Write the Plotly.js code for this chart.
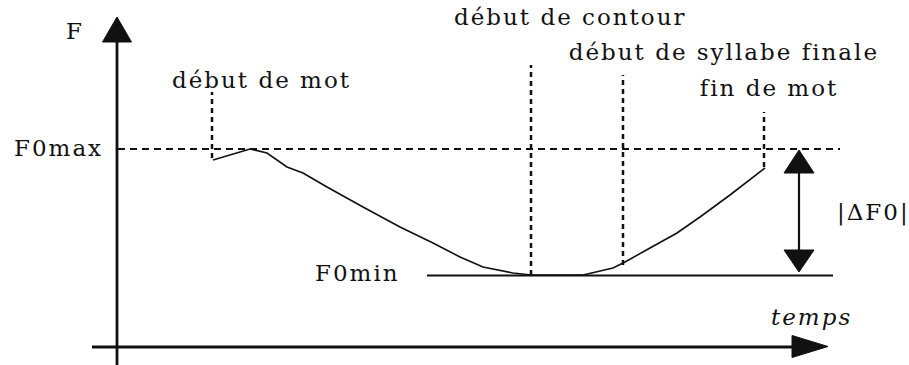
<!DOCTYPE html>
<html>
<head>
<meta charset="utf-8">
<script src="https://cdn.plot.ly/plotly-3.0.1.min.js"></script>
<style>
  html, body { margin: 0; padding: 0; background: #fff; }
  #chart { width: 909px; height: 365px; }
  #chart .annotation-text { letter-spacing: 2px; }
</style>
</head>
<body>
<div id="chart"></div>
<script>
// F0 contour (time t, frequency F)
var curveT = [9.6, 13.3, 15.0, 17.0, 18.6, 21.0, 24.6, 28.3, 31.6, 34.3, 36.6, 39.6, 41.4,
              46.6, 49.6, 50.8, 53.3, 56.0, 58.3, 61.3, 64.8];
var curveF = [18.7, 19.8, 19.4, 18.0, 17.4, 16.0, 14.0, 12.0, 10.4, 9.0, 8.0, 7.4, 7.2,
              7.2, 7.9, 8.5, 9.9, 11.4, 13.0, 15.2, 17.9];

var f0max = 19.8;
var f0min = 7.15;

// event markers on the time axis
var eventLabels = ['début de mot', 'début de contour', 'début de syllabe finale', 'fin de mot'];
var eventTimes = [9.5, 41.4, 50.6, 64.7];
var eventTops = [25.5, 28.2, 27.2, 23.5];
var eventBottoms = [18.9, 7.2, 8.2, 18.0];

var tMin = -11.7, tMax = 79.2;
var fMin = -1.8, fMax = 34.7;

var FONT = 'DejaVu Serif, Liberation Serif, serif';
var INK = '#111';

function triangle(tipX, tipY, dx, dy, halfW) {
    // arrow head: tip at (tipX, tipY), base centred at tip - (dx, dy)
    var bx = tipX - dx, by = tipY - dy;
    var nx = dy === 0 ? 0 : halfW, ny = dy === 0 ? halfW : 0;
    return {
        x: [tipX, bx + nx, bx - nx, tipX],
        y: [tipY, by + ny, by - ny, tipY]
    };
}

function headTrace(h) {
    return {
        type: 'scatter', mode: 'lines', x: h.x, y: h.y,
        fill: 'toself', fillcolor: INK, line: { color: INK, width: 1 },
        hoverinfo: 'skip', showlegend: false
    };
}

var yHeadTip = 33.0, xHeadTip = 71.1, xAxisEnd = 67.5;
var arrowT = 68.2;

var traces = [
    {
        type: 'scatter', mode: 'lines', x: curveT, y: curveF,
        line: { color: INK, width: 1.6 }, hoverinfo: 'skip', showlegend: false
    },
    headTrace(triangle(0, yHeadTip, 0, 2.5, 1.45)),
    headTrace(triangle(xHeadTip, 0.05, xHeadTip - xAxisEnd, 0, 1.1)),
    headTrace(triangle(arrowT, f0max - 0.1, 0, 2.3, 1.5)),
    headTrace(triangle(arrowT, f0min + 0.35, 0, -2.2, 1.5))
];

var shapes = [
    // axes
    { type: 'line', x0: 0, x1: 0, y0: fMin, y1: yHeadTip - 2.4, line: { color: INK, width: 2.8 } },
    { type: 'line', x0: -2.5, x1: xAxisEnd + 0.2, y0: 0, y1: 0, line: { color: INK, width: 2.8 } },
    // F0max reference (dashed) and F0min reference (solid)
    { type: 'line', x0: 0.1, x1: 72.3, y0: f0max, y1: f0max, line: { color: '#111', width: 2, dash: '7px,5px' } },
    { type: 'line', x0: 31.0, x1: 71.6, y0: f0min, y1: f0min, line: { color: INK, width: 2.2 } },
    // |ΔF0| shaft
    { type: 'line', x0: arrowT, x1: arrowT, y0: f0max - 2.3, y1: f0min + 2.5, line: { color: INK, width: 2.2 } }
];

eventTimes.forEach(function (t, i) {
    shapes.push({
        type: 'line', x0: t, x1: t, y0: eventBottoms[i], y1: eventTops[i],
        line: { color: '#111', width: 2.5, dash: '5px,4px' }
    });
});

var labelPos = [
    { x: 14.5, y: 26.7 },
    { x: 45.3, y: 33.0 },
    { x: 60.7, y: 29.5 },
    { x: 65.2, y: 25.9 }
];

function note(text, x, y) {
    return {
        text: text, x: x, y: y, xref: 'x', yref: 'y',
        xanchor: 'center', yanchor: 'middle', showarrow: false,
        font: { family: FONT, size: 23, color: INK }
    };
}

var annotations = eventLabels.map(function (label, i) {
    return note(label, labelPos[i].x, labelPos[i].y);
});
annotations.push(note('F', -4.2, 31.6));
annotations.push(note('F0max', -5.9, f0max + 0.1));
annotations.push(note('F0min', 24.0, f0min + 0.25));
annotations.push(note('<i>temps</i>', 69.4, 3.0));
annotations.push(note('|ΔF0|', 75.6, 13.5));

var axisOff = {
    showgrid: false, zeroline: false, showticklabels: false,
    showline: false, ticks: '', fixedrange: true
};

var layout = {
    width: 909, height: 365,
    margin: { l: 0, r: 0, t: 0, b: 0 },
    paper_bgcolor: '#fff', plot_bgcolor: '#fff',
    showlegend: false,
    xaxis: Object.assign({ range: [tMin, tMax] }, axisOff),
    yaxis: Object.assign({ range: [fMin, fMax] }, axisOff),
    shapes: shapes,
    annotations: annotations
};

Plotly.newPlot('chart', traces, layout, { staticPlot: true, displayModeBar: false });
</script>
</body>
</html>
